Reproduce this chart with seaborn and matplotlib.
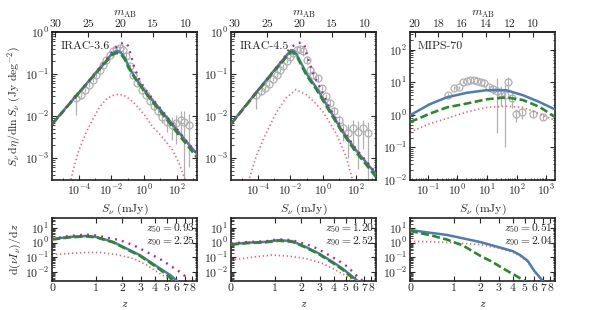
import numpy as np
import pandas as pd
import matplotlib
matplotlib.use("Agg")
import matplotlib.pyplot as plt
import seaborn as sns
from matplotlib.ticker import FixedLocator, LogLocator, NullFormatter, NullLocator, FixedFormatter

# ---------------- data (log10 values) ----------------
# IRAC-3.6 number counts
i36_blue_logS = [-5.65, -4.0, -3.0, -2.4, -2.0, -1.8, -1.6, -1.4, -1.2, -0.9, -0.6, -0.3, 0.0, 0.5, 1.0, 1.5, 2.0, 2.5, 3.25]
i36_blue_logy = [-2.19, -1.44, -0.99, -0.72, -0.53, -0.47, -0.45, -0.50, -0.60, -0.85, -1.05, -1.22, -1.38, -1.62, -1.85, -2.08, -2.32, -2.56, -2.90]
i36_green_logy = [-2.20, -1.45, -1.00, -0.74, -0.56, -0.51, -0.50, -0.54, -0.64, -0.88, -1.07, -1.24, -1.40, -1.65, -1.89, -2.13, -2.38, -2.62, -2.98]
i36_mag_logS = [-5.65, -4.0, -3.0, -2.4, -2.0, -1.7, -1.45, -1.2, -1.0, -0.8, -0.6, -0.3, 0.0, 0.5, 1.0, 1.5, 2.0, 2.5, 3.25]
i36_mag_logy = [-2.19, -1.44, -0.99, -0.70, -0.50, -0.36, -0.28, -0.25, -0.32, -0.55, -0.85, -1.12, -1.32, -1.58, -1.82, -2.06, -2.30, -2.55, -2.90]
i36_red_logS = [-4.55, -4.29, -3.99, -3.58, -3.17, -2.76, -2.36, -1.94, -1.53, -1.12, -0.72, -0.31, 0.10, 0.51, 0.92, 1.33, 1.74, 2.15, 2.45, 2.6]
i36_red_logy = [-3.6, -3.20, -2.80, -2.41, -2.09, -1.81, -1.61, -1.51, -1.48, -1.53, -1.65, -1.81, -2.01, -2.25, -2.41, -2.60, -2.80, -3.12, -3.44, -3.6]
i36_obs_logS = [-4.19, -3.88, -3.62, -3.37, -3.13, -2.93, -2.72, -2.52, -2.31, -2.11, -1.90, -1.70, -1.49, -1.29, -1.09, -0.88, -0.67, -0.41, -0.14, 0.10, 0.35, 0.61, 0.88, 1.12, 1.43, 1.74, 1.94, 2.25, 2.45, 2.76]
i36_obs_logy = [-1.57, -1.49, -1.37, -1.25, -1.14, -1.02, -0.90, -0.78, -0.66, -0.54, -0.46, -0.41, -0.38, -0.42, -0.58, -0.82, -1.02, -1.21, -1.37, -1.49, -1.65, -1.77, -1.89, -2.01, -2.13, -2.21, -2.17, -2.09, -2.13, -2.21]
i36_obs_lo = [0.40, 0.10, 0.06, 0.05, 0.04, 0.04, 0.04, 0.04, 0.04, 0.04, 0.05, 0.06, 0.07, 0.08, 0.08, 0.06, 0.05, 0.05, 0.05, 0.06, 0.07, 0.08, 0.10, 0.15, 0.25, 0.35, 0.50, 0.45, 1.50, 1.00]
i36_obs_hi = [0.15, 0.08, 0.05, 0.05, 0.04, 0.04, 0.04, 0.04, 0.04, 0.04, 0.05, 0.06, 0.08, 0.10, 0.10, 0.07, 0.05, 0.05, 0.05, 0.06, 0.07, 0.08, 0.10, 0.12, 0.15, 0.18, 0.20, 0.20, 0.25, 0.25]

# IRAC-4.5 number counts
i45_blue_logS = [-5.65, -4.0, -3.0, -2.4, -2.1, -1.95, -1.8, -1.6, -1.4, -1.0, -0.4, 0.4, 1.2, 2.0, 2.6, 3.25]
i45_blue_logy = [-2.18, -1.39, -0.91, -0.63, -0.49, -0.43, -0.45, -0.55, -0.70, -1.00, -1.33, -1.85, -2.37, -2.80, -3.08, -3.38]
i45_green_logy = [-2.19, -1.40, -0.93, -0.66, -0.53, -0.48, -0.49, -0.58, -0.74, -1.04, -1.37, -1.89, -2.40, -2.85, -3.13, -3.45]
i45_mag_logS = [-5.65, -4.0, -3.0, -2.4, -2.07, -1.66, -1.35, -1.15, -0.94, -0.53, -0.12, 0.4, 1.2, 2.0, 2.6, 3.25]
i45_mag_logy = [-2.18, -1.39, -0.91, -0.62, -0.40, -0.28, -0.25, -0.30, -0.62, -1.06, -1.37, -1.80, -2.33, -2.77, -3.05, -3.35]
i45_red_logS = [-4.65, -4.11, -3.50, -2.89, -2.27, -1.66, -1.0, -0.5, 0.0, 0.4, 0.8, 1.1, 1.41, 1.82, 1.95]
i45_red_logy = [-3.65, -2.96, -2.41, -1.93, -1.57, -1.37, -1.50, -1.68, -1.90, -2.15, -2.41, -2.68, -2.96, -3.52, -3.7]
i45_obs_logS = [-4.11, -3.80, -3.54, -3.29, -3.05, -2.85, -2.64, -2.44, -2.23, -2.02, -1.82, -1.62, -1.41, -1.21, -1.01, -0.80, -0.60, -0.33, -0.06, 0.18, 0.43, 0.69, 0.96, 1.25, 1.51, 1.82, 2.12, 2.43, 2.74]
i45_obs_logy = [-1.49, -1.41, -1.33, -1.23, -1.12, -1.02, -0.91, -0.80, -0.70, -0.60, -0.50, -0.42, -0.41, -0.46, -0.66, -0.90, -1.02, -1.10, -1.33, -1.53, -1.69, -1.89, -2.09, -2.29, -2.40, -2.29, -2.37, -2.29, -2.40]
i45_obs_lo = [0.35, 0.08, 0.05, 0.05, 0.04, 0.04, 0.04, 0.04, 0.04, 0.04, 0.05, 0.06, 0.08, 0.10, 0.10, 0.08, 0.08, 0.08, 0.06, 0.06, 0.07, 0.10, 0.15, 0.30, 0.60, 0.50, 0.90, 0.50, 1.20]
i45_obs_hi = [0.12, 0.06, 0.05, 0.05, 0.04, 0.04, 0.04, 0.04, 0.04, 0.04, 0.05, 0.06, 0.08, 0.10, 0.10, 0.08, 0.08, 0.08, 0.06, 0.06, 0.07, 0.10, 0.12, 0.15, 0.20, 0.20, 0.25, 0.20, 0.25]

# MIPS-70 number counts
m70_logS = [-1.6, -0.93, -0.36, 0.31, 0.98, 1.65, 2.21, 2.77, 3.3]
m70_blue_logy = [-0.01, 0.33, 0.54, 0.68, 0.76, 0.76, 0.61, 0.40, 0.17]
m70_green_logy = [-0.22, 0.04, 0.23, 0.35, 0.48, 0.54, 0.46, 0.25, -0.06]
m70_red_logy = [-0.53, -0.27, -0.11, 0.09, 0.23, 0.27, 0.23, 0.04, -0.17]
m70_obs_logS = [-0.33, -0.12, 0.05, 0.19, 0.33, 0.44, 0.56, 0.68, 0.79, 0.90, 1.06, 1.20, 1.34, 1.47, 1.61, 1.72, 1.83, 1.99, 2.19, 2.55, 2.88]
m70_obs_logy = [0.61, 0.82, 0.85, 1.02, 1.05, 1.07, 1.07, 1.05, 1.02, 0.97, 0.85, 0.79, 0.74, 0.68, 0.61, 1.02, 0.51, 0.04, 0.09, 0.04, -0.06]
m70_obs_lo = [0.08, 0.06, 0.05, 0.05, 0.05, 0.05, 0.05, 0.05, 0.06, 0.07, 0.10, 0.15, 1.30, 0.40, 1.60, 0.30, 0.30, 0.25, 0.20, 0.10, 0.10]
m70_obs_hi = [0.08, 0.06, 0.05, 0.05, 0.05, 0.05, 0.05, 0.05, 0.06, 0.07, 0.08, 0.12, 0.40, 0.20, 0.30, 0.15, 0.20, 0.15, 0.15, 0.10, 0.10]

# redshift distributions d(nu I_nu)/dz
b1_blue_z = [0, 0.31, 0.71, 1.0, 1.6, 2.21, 2.95, 3.63, 4.42, 5.35, 6.05, 6.5]
b1_blue_logy = [0.25, 0.40, 0.47, 0.40, 0.06, -0.40, -0.85, -1.31, -1.77, -2.22, -2.62, -2.9]
b1_green_z = [0, 0.31, 0.71, 1.0, 1.6, 2.21, 2.95, 3.63, 4.42, 5.0, 5.68, 6.0]
b1_green_logy = [0.22, 0.37, 0.44, 0.37, 0.03, -0.44, -0.90, -1.37, -1.85, -2.2, -2.62, -2.8]
b1_mag_z = [0, 0.31, 0.71, 1.0, 1.89, 2.56, 3.63, 4.71, 5.51, 6.62, 7.07, 7.6]
b1_mag_logy = [0.26, 0.47, 0.56, 0.50, 0.18, -0.16, -0.75, -1.26, -1.65, -2.10, -2.33, -2.7]
b1_red_z = [0, 0.31, 0.71, 1.11, 1.74, 2.56, 3.4, 4.14, 4.86, 5.5, 5.8]
b1_red_logy = [-0.81, -0.74, -0.67, -0.67, -0.81, -1.08, -1.53, -1.99, -2.33, -2.62, -2.8]

b2_blue_z = [0, 0.31, 0.71, 1.11, 1.6, 2.21, 2.96, 3.88, 4.71, 5.68, 6.24, 6.6]
b2_blue_logy = [-0.10, 0.01, 0.06, 0.18, 0.11, -0.28, -0.74, -1.31, -1.77, -2.33, -2.62, -2.85]
b2_green_logy = [-0.13, -0.02, 0.03, 0.14, 0.07, -0.32, -0.79, -1.37, -1.84, -2.42, -2.72, -2.95]
b2_mag_z = [0, 0.31, 0.71, 1.11, 1.6, 2.38, 2.85, 3.63, 4.42, 5.18, 6.24, 6.82, 7.2]
b2_mag_logy = [-0.05, 0.06, 0.10, 0.24, 0.18, -0.16, -0.40, -0.85, -1.26, -1.65, -2.33, -2.62, -2.85]
b2_red_z = [0, 0.46, 0.9, 1.47, 2.21, 3.17, 4.14, 5.02, 5.68, 6.0]
b2_red_logy = [-1.19, -0.97, -0.85, -0.92, -1.08, -1.42, -1.88, -2.27, -2.56, -2.75]

b3_z = [0, 0.3, 0.78, 1.3, 2.0, 3.0, 4.0, 4.6, 5.3, 6.0, 6.5, 7.0, 7.3]
b3_blue_logy = [0.88, 0.72, 0.54, 0.30, 0.05, -0.30, -0.58, -0.85, -1.25, -1.95, -2.30, -2.65, -2.85]
b3_red_logy = [0.10, 0.08, 0.02, -0.05, -0.12, -0.38, -0.65, -0.92, -1.30, -1.97, -2.35, -2.70, -2.9]
b3_green_z = [0, 0.4, 0.78, 1.3, 2.0, 2.6, 3.1, 3.6, 4.1, 4.6, 5.0, 5.3]
b3_green_logy = [0.82, 0.50, 0.22, -0.20, -0.90, -1.30, -1.65, -1.95, -2.20, -2.45, -2.62, -2.75]

band_names = ["IRAC-3.6", "IRAC-4.5", "MIPS-70"]
z50_labels = ["0.93", "1.20", "0.51"]
z90_labels = ["2.25", "2.52", "2.04"]
z_ticks = [0, 1, 2, 3, 4, 5, 6, 7, 8]

# ---------------- style ----------------
sns.set_style("ticks")
plt.rcParams.update({
    "font.family": "serif",
    "font.serif": ["cmr10", "DejaVu Serif"],
    "mathtext.fontset": "cm",
    "axes.formatter.use_mathtext": True,
    "font.size": 8.5,
    "axes.labelsize": 8.5,
    "xtick.labelsize": 8.5,
    "ytick.labelsize": 8.5,
    "axes.edgecolor": "#222222",
    "axes.linewidth": 1.2,
    "xtick.direction": "in",
    "ytick.direction": "in",
    "xtick.major.size": 3.5,
    "ytick.major.size": 3.5,
    "xtick.minor.size": 1.8,
    "ytick.minor.size": 1.8,
    "xtick.major.width": 0.8,
    "ytick.major.width": 0.8,
    "xtick.minor.width": 0.6,
    "ytick.minor.width": 0.6,
    "xtick.major.pad": 2.5,
    "ytick.major.pad": 2.0,
    "axes.unicode_minus": True,
})

C_BLUE = "#4a7db5"
C_GREEN = "#2a8a2a"
C_MAG = "#b02a82"
C_RED = "#ff5a6e"
C_OBS = "#b0b0b0"

fig = plt.figure(figsize=(5.91, 3.10), dpi=100)
W = 145 / 591
lefts = [52 / 591, 231 / 591, 410 / 591]
top_axes = [fig.add_axes([l, 1 - 180 / 310, W, 148 / 310]) for l in lefts]
bot_axes = [fig.add_axes([l, 1 - 280.5 / 310, W, 63 / 310]) for l in lefts]


def p10(a):
    return 10 ** np.asarray(a, dtype=float)


def line(ax, x, y, color, lw, ls, zorder):
    df = pd.DataFrame({"x": x, "y": y})
    sns.lineplot(data=df, x="x", y="y", ax=ax, color=color, lw=lw, linestyle=ls,
                 estimator=None, sort=False, zorder=zorder, legend=False)


DASH = (0, (3.0, 1.3))
DOT_M = (0, (0.8, 2.2))
DOT_R = (0, (0.8, 1.6))


def s_to_m(s):
    s = np.clip(np.asarray(s, dtype=float), 1e-30, None)
    return 16.4 - 2.5 * np.log10(s)


def m_to_s(m):
    return 10 ** ((16.4 - np.asarray(m, dtype=float)) / 2.5)


top_sets = [
    dict(bx=i36_blue_logS, by=i36_blue_logy, gx=i36_blue_logS, gy=i36_green_logy,
         mx=i36_mag_logS, my=i36_mag_logy, rx=i36_red_logS, ry=i36_red_logy,
         ox=i36_obs_logS, oy=i36_obs_logy, lo=i36_obs_lo, hi=i36_obs_hi),
    dict(bx=i45_blue_logS, by=i45_blue_logy, gx=i45_blue_logS, gy=i45_green_logy,
         mx=i45_mag_logS, my=i45_mag_logy, rx=i45_red_logS, ry=i45_red_logy,
         ox=i45_obs_logS, oy=i45_obs_logy, lo=i45_obs_lo, hi=i45_obs_hi),
    dict(bx=m70_logS, by=m70_blue_logy, gx=m70_logS, gy=m70_green_logy,
         mx=None, my=None, rx=m70_logS, ry=m70_red_logy,
         ox=m70_obs_logS, oy=m70_obs_logy, lo=m70_obs_lo, hi=m70_obs_hi),
]

for i, (ax, d) in enumerate(zip(top_axes, top_sets)):
    ox = p10(d["ox"])
    oy = p10(d["oy"])
    ylo = oy - p10(np.array(d["oy"]) - np.array(d["lo"]))
    yhi = p10(np.array(d["oy"]) + np.array(d["hi"])) - oy
    ax.errorbar(ox, oy, yerr=[ylo, yhi], fmt="o", mfc="none", mec=C_OBS, ms=5.0,
                mew=0.9, ecolor=C_OBS, elinewidth=0.9, capsize=0, zorder=1)
    line(ax, p10(d["rx"]), p10(d["ry"]), C_RED, 1.2, DOT_R, 2)
    line(ax, p10(d["bx"]), p10(d["by"]), C_BLUE, 1.8, "-", 3)
    line(ax, p10(d["gx"]), p10(d["gy"]), C_GREEN, 1.9, DASH, 4)
    if d["mx"] is not None:
        line(ax, p10(d["mx"]), p10(d["my"]), C_MAG, 1.7, DOT_M, 5)
    ax.set_xscale("log")
    ax.set_yscale("log")
    if i < 2:
        ax.set_xlim(10 ** -5.65, 10 ** 3.25)
        ax.set_ylim(10 ** -3.52, 1.0)
        ax.xaxis.set_major_locator(FixedLocator([1e-4, 1e-2, 1e0, 1e2]))
        ax.xaxis.set_minor_locator(FixedLocator([1e-5, 1e-3, 1e-1, 1e1, 1e3]))
        ax.xaxis.set_minor_formatter(NullFormatter())
        sec_ticks = [30, 25, 20, 15, 10]
        ax.yaxis.set_major_locator(LogLocator(base=10, numticks=20))
    else:
        ax.set_xlim(10 ** -1.6, 10 ** 3.3)
        ax.set_ylim(1e-2, 10 ** 2.55)
        ax.xaxis.set_major_locator(LogLocator(base=10, numticks=20))
        ax.xaxis.set_minor_locator(LogLocator(base=10, subs=np.arange(2, 10), numticks=20))
        ax.xaxis.set_minor_formatter(NullFormatter())
        sec_ticks = [20, 18, 16, 14, 12, 10]
        ax.yaxis.set_major_locator(LogLocator(base=10, numticks=20))
    ax.yaxis.set_minor_locator(LogLocator(base=10, subs=np.arange(2, 10), numticks=20))
    ax.yaxis.set_minor_formatter(NullFormatter())
    ax.tick_params(which="both", top=False, right=True, bottom=True, left=True)
    ax.set_xlabel(r"$S_\nu\ (\mathrm{mJy})$", labelpad=2)
    ax.set_ylabel("")
    sec = ax.secondary_xaxis("top", functions=(s_to_m, m_to_s))
    sec.xaxis.set_major_locator(FixedLocator(sec_ticks))
    sec.xaxis.set_major_formatter(FixedFormatter([str(t) for t in sec_ticks]))
    sec.xaxis.set_minor_locator(NullLocator())
    sec.tick_params(direction="in", length=3.5, width=0.8, pad=2)
    sec.set_xlabel(r"$m_\mathrm{AB}$", labelpad=3)
    ax.text(0.06 if i < 2 else 0.055, 0.905, band_names[i], transform=ax.transAxes,
            ha="left", va="center", fontsize=8.5, zorder=10)

top_axes[0].set_ylabel(r"$S_\nu\,\mathrm{d}\eta/\mathrm{d}\ln S_\nu\ (\mathrm{Jy\ deg}^{-2})$", labelpad=1)

bot_sets = [
    dict(bz=b1_blue_z, by=b1_blue_logy, gz=b1_green_z, gy=b1_green_logy,
         mz=b1_mag_z, my=b1_mag_logy, rz=b1_red_z, ry=b1_red_logy),
    dict(bz=b2_blue_z, by=b2_blue_logy, gz=b2_blue_z, gy=b2_green_logy,
         mz=b2_mag_z, my=b2_mag_logy, rz=b2_red_z, ry=b2_red_logy),
    dict(bz=b3_z, by=b3_blue_logy, gz=b3_green_z, gy=b3_green_logy,
         mz=None, my=None, rz=b3_z, ry=b3_red_logy),
]


def fwd(z):
    return np.log10(1 + np.clip(np.asarray(z, dtype=float), -0.999, None))


def inv(u):
    return 10 ** np.asarray(u, dtype=float) - 1


for i, (ax, d) in enumerate(zip(bot_axes, bot_sets)):
    line(ax, d["rz"], p10(d["ry"]), C_RED, 1.2, DOT_R, 2)
    line(ax, d["bz"], p10(d["by"]), C_BLUE, 1.8, "-", 3)
    line(ax, d["gz"], p10(d["gy"]), C_GREEN, 1.9, DASH, 4)
    if d["mz"] is not None:
        line(ax, d["mz"], p10(d["my"]), C_MAG, 1.7, DOT_M, 5)
    ax.set_xscale("function", functions=(fwd, inv))
    ax.set_yscale("log")
    ax.set_xlim(0, 8.66)
    ax.set_ylim(10 ** -2.6, 10 ** 1.74)
    ax.xaxis.set_major_locator(FixedLocator(z_ticks))
    ax.xaxis.set_major_formatter(FixedFormatter([str(t) for t in z_ticks]))
    ax.xaxis.set_minor_locator(NullLocator())
    ax.yaxis.set_major_locator(LogLocator(base=10, numticks=20))
    ax.yaxis.set_minor_locator(LogLocator(base=10, subs=np.arange(2, 10), numticks=20))
    ax.yaxis.set_minor_formatter(NullFormatter())
    ax.tick_params(which="both", top=True, right=True, bottom=True, left=True)
    ax.set_xlabel(r"$z$", labelpad=4)
    ax.set_ylabel("")
    ax.text(0.985, 0.835, r"$z_{50} = %s$" % z50_labels[i], transform=ax.transAxes,
            ha="right", va="center", fontsize=8.3)
    ax.text(0.985, 0.625, r"$z_{90} = %s$" % z90_labels[i], transform=ax.transAxes,
            ha="right", va="center", fontsize=8.3)

bot_axes[0].set_ylabel(r"$\mathrm{d}(\nu I_\nu)/\mathrm{d}z$", labelpad=1)

fig.savefig("out.png", dpi=100)
